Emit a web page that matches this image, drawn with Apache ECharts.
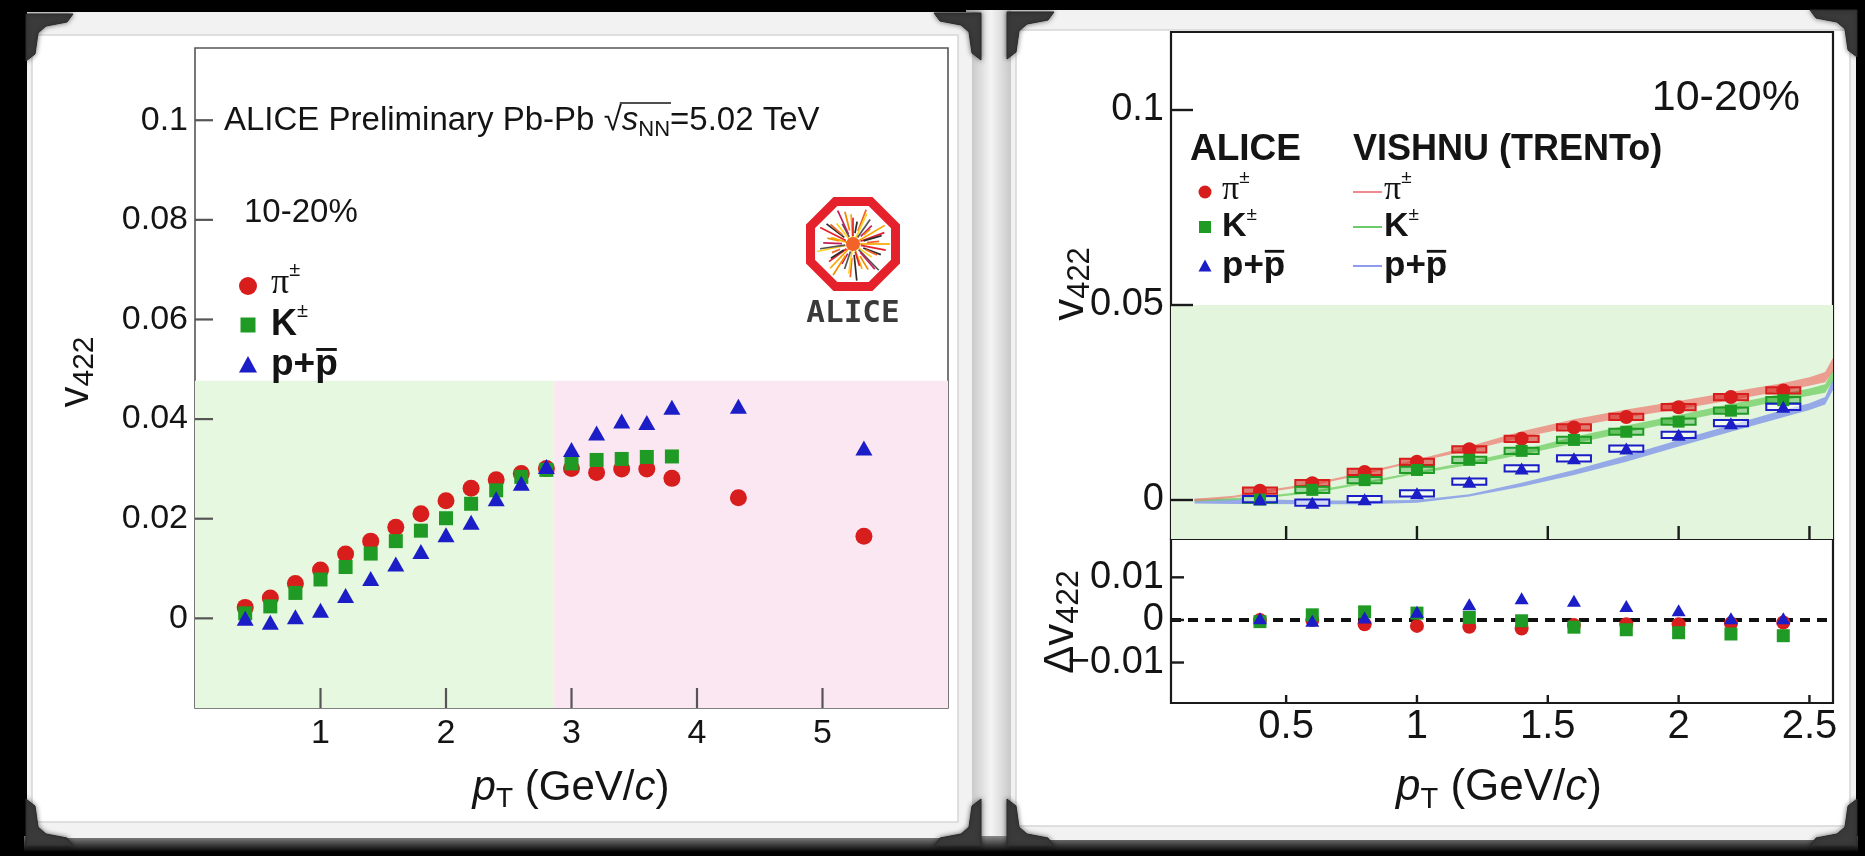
<!DOCTYPE html>
<html>
<head>
<meta charset="utf-8">
<title>v422 of identified hadrons, Pb-Pb 5.02 TeV, 10-20%</title>
<script src="https://cdn.jsdelivr.net/npm/echarts@6/dist/echarts.min.js"></script>
<style>
  html, body { margin: 0; padding: 0; background: #000; }
  #chart { width: 1865px; height: 856px; }
</style>
</head>
<body>
<div id="chart"></div>
<script>
// ---------------------------------------------------------------------------
// Measured v422 (ALICE Preliminary), pT bin centres in GeV/c
// ---------------------------------------------------------------------------
const ptFull = [0.4, 0.6, 0.8, 1.0, 1.2, 1.4, 1.6, 1.8, 2.0, 2.2, 2.4, 2.6, 2.8, 3.0, 3.2, 3.4, 3.6, 3.8, 4.33, 5.33];
const ptKaon = [0.4, 0.6, 0.8, 1.0, 1.2, 1.4, 1.6, 1.8, 2.0, 2.2, 2.4, 2.6, 2.8, 3.0, 3.2, 3.4, 3.6, 3.8];
const v422Pion   = [0.0022, 0.0041, 0.0070, 0.0097, 0.0129, 0.0155, 0.0183, 0.0210, 0.0236, 0.0261, 0.0278, 0.0291, 0.0301, 0.0301, 0.0293, 0.0300, 0.0300, 0.0281, 0.0242, 0.0165];
const v422Kaon   = [0.0010, 0.0024, 0.0051, 0.0078, 0.0103, 0.0130, 0.0155, 0.0176, 0.0201, 0.0230, 0.0257, 0.0284, 0.0298, 0.0311, 0.0318, 0.0320, 0.0324, 0.0325];
const v422Proton = [0.0000, -0.0008, 0.0003, 0.0016, 0.0046, 0.0080, 0.0109, 0.0134, 0.0168, 0.0193, 0.0240, 0.0271, 0.0305, 0.0339, 0.0372, 0.0396, 0.0393, 0.0424, 0.0426, 0.0342];

// Comparison panel uses the points up to 2.4 GeV/c
const ptCmp = [0.4, 0.6, 0.8, 1.0, 1.2, 1.4, 1.6, 1.8, 2.0, 2.2, 2.4];
const v422PionCmp   = [0.0024, 0.0043, 0.0072, 0.0098, 0.0130, 0.0157, 0.0186, 0.0213, 0.0238, 0.0264, 0.0281];
const v422KaonCmp   = [0.0001, 0.0026, 0.0051, 0.0077, 0.0103, 0.0126, 0.0154, 0.0175, 0.0201, 0.0229, 0.0256];
const v422ProtonCmp = [0.0002, -0.0007, 0.0002, 0.0017, 0.0047, 0.0081, 0.0107, 0.0132, 0.0167, 0.0197, 0.0239];
const sysV422 = 0.0008;   // half-height of the systematic boxes
const sysPtHalf = 0.065;  // half-width of the systematic boxes

// Data minus VISHNU
const dv422Pion   = [0.0000, 0.0000, -0.0010, -0.0014, -0.0016, -0.0020, -0.0012, -0.0010, -0.0010, -0.0008, -0.0006];
const dv422Kaon   = [-0.0004, 0.0012, 0.0019, 0.0016, 0.0006, -0.0002, -0.0017, -0.0023, -0.0030, -0.0033, -0.0037];
const dv422Proton = [0.0004, -0.0002, 0.0006, 0.0019, 0.0037, 0.0051, 0.0045, 0.0033, 0.0023, 0.0004, 0.0004];

// VISHNU (TRENTo) hydro bands: lower / upper edge
const hydroPt = [0.15, 0.3, 0.4, 0.6, 0.8, 1.0, 1.2, 1.4, 1.6, 1.8, 2.0, 2.2, 2.4, 2.5, 2.56, 2.59];
const hydroPionLo   = [-0.0003, 0.0006, 0.0017, 0.0037, 0.0066, 0.0098, 0.0127, 0.0160, 0.0188, 0.0212, 0.0233, 0.0256, 0.0280, 0.0293, 0.0302, 0.0330];
const hydroPionHi   = [0.0003, 0.0011, 0.0023, 0.0043, 0.0072, 0.0104, 0.0138, 0.0176, 0.0207, 0.0232, 0.0254, 0.0277, 0.0300, 0.0315, 0.0328, 0.0365];
const hydroKaonLo   = [-0.0004, 0.0000, 0.0004, 0.0017, 0.0041, 0.0067, 0.0090, 0.0116, 0.0145, 0.0173, 0.0201, 0.0228, 0.0256, 0.0267, 0.0275, 0.0305];
const hydroKaonHi   = [0.0002, 0.0005, 0.0009, 0.0024, 0.0047, 0.0073, 0.0099, 0.0128, 0.0162, 0.0191, 0.0218, 0.0246, 0.0273, 0.0286, 0.0297, 0.0335];
const hydroProtonLo = [-0.0009, -0.0010, -0.0010, -0.0011, -0.0011, -0.0007, 0.0009, 0.0034, 0.0064, 0.0098, 0.0137, 0.0175, 0.0212, 0.0231, 0.0245, 0.0282];
const hydroProtonHi = [0.0003, 0.0002, 0.0002, -0.0001, -0.0001, 0.0000, 0.0015, 0.0044, 0.0077, 0.0114, 0.0154, 0.0192, 0.0231, 0.0248, 0.0264, 0.0310];

// Shaded ranges
const leftGreenRange = [0, 2.86];
const leftPinkRange = [2.86, 6];
const leftShadeTop = 0.0477;
const rightShadeTop = 0.05;

// Axis ranges, ticks and labels
const leftXRange = [0, 6], leftYRange = [-0.018, 0.1145];
const cmpXRange = [0.06, 2.59], cmpYRange = [-0.01, 0.12], ratioYRange = [-0.0195, 0.019];
const leftXTicks = [1, 2, 3, 4, 5];
const leftXLabels = ['1', '2', '3', '4', '5'];
const leftYTicks = [0, 0.02, 0.04, 0.06, 0.08, 0.1];
const leftYLabels = ['0', '0.02', '0.04', '0.06', '0.08', '0.1'];
const rightXTicks = [0.5, 1, 1.5, 2, 2.5];
const rightXLabels = ['0.5', '1', '1.5', '2', '2.5'];
const rightYTicks = [0, 0.05, 0.1];
const rightYLabels = ['0', '0.05', '0.1'];
const ratioYTicks = [-0.01, 0, 0.01];
const ratioYLabels = ['\u22120.01', '0', '0.01'];

// ---------------------------------------------------------------------------
const FONT = '"Liberation Sans", Arial, Helvetica, sans-serif';
const SERIF = '"Liberation Serif", "DejaVu Serif", serif';
const RED = '#d81d1d', GREEN = '#1f9b25', BLUE = '#1b1dc6';
const INK = '#141414';
const LEFT_FRAME = '#555555', RIGHT_FRAME = '#1a1a1a';

const mctx = document.createElement('canvas').getContext('2d');
function textWidth(text, font) { mctx.font = font; return mctx.measureText(text).width; }

function labelFor(ticks, labels) {
  return function (v) {
    let best = 0;
    for (let i = 1; i < ticks.length; i++) if (Math.abs(ticks[i] - v) < Math.abs(ticks[best] - v)) best = i;
    return labels[best];
  };
}

function xAxisDef(grid, range, ticks, labels, fontSize, showLabels, margin) {
  return {
    type: 'value', gridIndex: grid, min: range[0], max: range[1], position: 'bottom', z: 10,
    axisLine: { show: false, onZero: false }, splitLine: { show: false }, axisTick: { show: false },
    axisLabel: { show: showLabels, customValues: ticks, formatter: labelFor(ticks, labels), margin: margin,
      fontFamily: FONT, fontSize: fontSize, color: INK }
  };
}
function yAxisDef(grid, range, ticks, labels, fontSize) {
  return {
    type: 'value', gridIndex: grid, min: range[0], max: range[1], position: 'left', z: 10,
    axisLine: { show: false, onZero: false }, splitLine: { show: false }, axisTick: { show: false },
    axisLabel: { show: true, customValues: ticks, formatter: labelFor(ticks, labels), margin: 7,
      fontFamily: FONT, fontSize: fontSize, color: INK }
  };
}

function scatter(xi, yi, xs, ys, symbol, size, color) {
  return {
    type: 'scatter', xAxisIndex: xi, yAxisIndex: yi, symbol: symbol, symbolSize: size,
    itemStyle: { color: color, opacity: 1 }, z: 5, silent: true,
    data: ys.map((y, i) => [xs[i], y])
  };
}

function bandSeries(lo, hi, fill) {
  return {
    type: 'custom', xAxisIndex: 1, yAxisIndex: 1, z: 3, silent: true,
    data: hydroPt.map((x, i) => [x, lo[i], hi[i]]),
    encode: { x: 0, y: [1, 2] },
    renderItem: function (params, api) {
      if (params.dataIndex !== 0) return null;
      const up = hydroPt.map((x, i) => api.coord([x, hi[i]]));
      const dn = hydroPt.map((x, i) => api.coord([x, lo[i]])).reverse();
      return { type: 'polygon', shape: { points: up.concat(dn) }, style: { fill: fill } };
    }
  };
}

function systSeries(xs, ys, stroke, fill) {
  return {
    type: 'custom', xAxisIndex: 1, yAxisIndex: 1, z: 4, silent: true,
    data: ys.map((y, i) => [xs[i], y]),
    renderItem: function (params, api) {
      const x = api.value(0), y = api.value(1);
      const p0 = api.coord([x - sysPtHalf, y + sysV422]);
      const p1 = api.coord([x + sysPtHalf, y - sysV422]);
      return { type: 'rect', shape: { x: p0[0], y: p0[1], width: p1[0] - p0[0], height: p1[1] - p0[1] },
        style: { fill: fill, stroke: stroke, lineWidth: 2 } };
    }
  };
}

function shadeSeries(xi, yi, areas) {
  return {
    type: 'line', xAxisIndex: xi, yAxisIndex: yi, data: [], z: 1, silent: true,
    markArea: { silent: true, data: areas }
  };
}

// ---------------------------------------------------------------------------
// Decorations: photo frames, corner brackets
// ---------------------------------------------------------------------------
function bracket(x, y, sx, sy) {
  const shape = [[0, 0], [47, 0], [41, 8], [20, 12], [12, 19], [9, 40], [0, 47]];
  return {
    type: 'polygon', z: -5, silent: true,
    shape: { points: shape.map(p => [x + sx * p[0], y + sy * p[1]]) },
    style: { fill: '#3b3b3b', stroke: '#2a2a2a', lineWidth: 1, shadowBlur: 5, shadowColor: 'rgba(0,0,0,0.55)' }
  };
}

const frameEls = [
  { type: 'rect', z: -12, silent: true, shape: { x: 966, y: 10, width: 50, height: 832 },
    style: { fill: new echarts.graphic.LinearGradient(0, 0, 1, 0, [
      { offset: 0, color: '#bdbdbd' }, { offset: 0.5, color: '#f4f4f4' }, { offset: 1, color: '#bdbdbd' }]) } },
  { type: 'rect', z: -12, silent: true, shape: { x: 24, y: 836, width: 1834, height: 16 },
    style: { fill: new echarts.graphic.LinearGradient(0, 0, 0, 1, [
      { offset: 0, color: '#8a8a8a' }, { offset: 1, color: '#000' }]) } },
  { type: 'rect', z: -11, silent: true, shape: { x: 27, y: 12, width: 945, height: 826 },
    style: { fill: '#f2f2f2' } },
  { type: 'rect', z: -10, silent: true, shape: { x: 32, y: 35, width: 926, height: 787 },
    style: { fill: '#ffffff', stroke: '#d6d6d6', lineWidth: 1.5 } },
  { type: 'rect', z: -11, silent: true, shape: { x: 1011, y: 10, width: 845, height: 830 },
    style: { fill: '#f2f2f2' } },
  { type: 'rect', z: -10, silent: true, shape: { x: 1016, y: 30, width: 834, height: 796 },
    style: { fill: '#ffffff', stroke: '#d6d6d6', lineWidth: 1.5 } },
  bracket(26, 14, 1, 1), bracket(981, 13, -1, 1), bracket(26, 846, 1, -1), bracket(981, 846, -1, -1),
  bracket(1007, 12, 1, 1), bracket(1857, 10, -1, 1), bracket(1007, 846, 1, -1), bracket(1857, 846, -1, -1)
];

// ALICE logo
function aliceLogo(cx, cy, R) {
  const els = [];
  const oct = [];
  for (let k = 0; k < 8; k++) {
    const a = Math.PI / 8 + k * Math.PI / 4;
    oct.push([cx + R * Math.cos(a), cy + R * Math.sin(a)]);
  }
  els.push({ type: 'polygon', z: 8, silent: true, shape: { points: oct },
    style: { fill: '#fff', stroke: '#e5212b', lineWidth: 9, lineJoin: 'miter' } });
  const cols = ['#f7a600', '#e5212b', '#2b2b2b', '#f2632a', '#ffd21f', '#555', '#c31f5c', '#f08c00'];
  const n = 44;
  for (let k = 0; k < n; k++) {
    const a = k * 2 * Math.PI / n + 0.04 * (k % 3);
    const r0 = 5 + (k % 4) * 3;
    const r1 = R * 0.8 - (k % 5) * 3.5;
    els.push({ type: 'line', z: 9, silent: true,
      shape: { x1: cx + r0 * Math.cos(a), y1: cy + r0 * Math.sin(a), x2: cx + r1 * Math.cos(a), y2: cy + r1 * Math.sin(a) },
      style: { stroke: cols[k % cols.length], lineWidth: 1.7 } });
  }
  els.push({ type: 'circle', z: 9, silent: true, shape: { cx: cx, cy: cy, r: 7 }, style: { fill: '#f2632a' } });
  els.push({ type: 'text', z: 9, silent: true, x: cx, y: cy + R + 24,
    style: { text: 'ALICE', font: 'bold 31px "DejaVu Sans Mono", monospace', fill: '#3a3a3a', align: 'center', verticalAlign: 'middle' } });
  return els;
}

// ---------------------------------------------------------------------------
// Texts
// ---------------------------------------------------------------------------
function richText(x, y, text, rich, opts) {
  return Object.assign({ type: 'text', z: 10, silent: true, x: x, y: y,
    style: { text: text, rich: rich, fill: INK, align: (opts && opts.align) || 'left', verticalAlign: 'middle' } },
    (opts && opts.rotation) ? { rotation: opts.rotation } : {});
}

function base(size, extra) {
  return Object.assign({ fontFamily: FONT, fontSize: size, lineHeight: Math.round(size * 1.25), fill: INK }, extra || {});
}
function sub(size) { return { fontFamily: FONT, fontSize: size, lineHeight: size, verticalAlign: 'bottom', fill: INK }; }
function sup(size, extra) { return Object.assign({ fontFamily: FONT, fontSize: size, lineHeight: size, verticalAlign: 'top', fill: INK }, extra || {}); }

// p + anti-p label with an overline over the second p
function pPbar(x, y, size) {
  const font = 'bold ' + size + 'px ' + FONT;
  const w1 = textWidth('p+', font);
  const w2 = textWidth('p', font);
  return [
    { type: 'text', z: 10, silent: true, x: x, y: y,
      style: { text: 'p+p', font: font, fill: INK, align: 'left', verticalAlign: 'middle' } },
    { type: 'line', z: 10, silent: true,
      shape: { x1: x + w1 + 1, y1: y - size * 0.42, x2: x + w1 + w2 - 1, y2: y - size * 0.42 },
      style: { stroke: INK, lineWidth: Math.max(2, size * 0.08) } }
  ];
}
function piLabel(x, y, size) {
  return richText(x, y, '{p|\u03c0}{s|\u00b1}', {
    p: { fontFamily: SERIF, fontSize: size, lineHeight: Math.round(size * 1.3), fill: INK },
    s: sup(Math.round(size * 0.55))
  });
}
function kLabel(x, y, size) {
  return richText(x, y, '{k|K}{s|\u00b1}', {
    k: base(size, { fontWeight: 'bold', lineHeight: Math.round(size * 1.3) }),
    s: sup(Math.round(size * 0.55))
  });
}
function marker(kind, x, y, size, color) {
  if (kind === 'circle') return { type: 'circle', z: 10, silent: true, shape: { cx: x, cy: y, r: size / 2 }, style: { fill: color } };
  if (kind === 'rect') return { type: 'rect', z: 10, silent: true, shape: { x: x - size / 2, y: y - size / 2, width: size, height: size }, style: { fill: color } };
  return { type: 'polygon', z: 10, silent: true, shape: { points: [[x, y - size / 2], [x + size / 2, y + size * 0.42], [x - size / 2, y + size * 0.42]] }, style: { fill: color } };
}
function legLine(x, y, color) {
  return { type: 'line', z: 10, silent: true, shape: { x1: x, y1: y, x2: x + 29, y2: y }, style: { stroke: color, lineWidth: 2 } };
}

// header with sqrt(s_NN)
const headerX = 224, headerY = 121, headerSize = 33;
const headerPre = 'ALICE Preliminary Pb-Pb ';
const wPre = textWidth(headerPre, headerSize + 'px ' + FONT) + textWidth('\u221a', headerSize + 'px ' + FONT);
const wRad = textWidth('s', 'italic ' + headerSize + 'px ' + FONT) + textWidth('NN', '22px ' + FONT);

const textEls = [
  richText(headerX, headerY, '{a|' + headerPre + '}{a|\u221a}{i|s}{n|NN}{a|=5.02 TeV}', {
    a: base(headerSize, { lineHeight: 40 }), i: base(headerSize, { fontStyle: 'italic', lineHeight: 40 }), n: sub(22)
  }),
  { type: 'line', z: 10, silent: true,
    shape: { x1: headerX + wPre - 2, y1: headerY - 18, x2: headerX + wPre + wRad + 1, y2: headerY - 18 },
    style: { stroke: INK, lineWidth: 1.5 } },
  richText(244, 213, '{a|10-20%}', { a: base(33) }),

  // left legend
  marker('circle', 248, 286, 18, RED), piLabel(271, 284, 36),
  marker('rect', 248, 325, 15, GREEN), kLabel(271, 325, 36),
  marker('tri', 248, 365, 18, BLUE)
].concat(pPbar(271, 365, 37)).concat([

  // axis titles, left
  richText(76, 372, '{v|v}{n|422}', { v: base(42, { lineHeight: 48 }), n: sub(30) }, { align: 'center', rotation: Math.PI / 2 }),
  richText(571, 788, '{p|p}{t|T}{a| (GeV/}{c|c}{a|)}', {
    p: base(42, { fontStyle: 'italic', lineHeight: 50 }), t: sub(28), a: base(42, { lineHeight: 50 }), c: base(42, { fontStyle: 'italic', lineHeight: 50 })
  }, { align: 'center' }),

  // right panel
  richText(1800, 98, '{a|10-20%}', { a: base(43) }, { align: 'right' }),
  richText(1190, 150, '{b|ALICE}', { b: base(37, { fontWeight: 'bold' }) }),
  richText(1353, 150, '{b|VISHNU (TRENTo)}', { b: base(36, { fontWeight: 'bold' }) }),
  marker('circle', 1205, 192, 13, RED), piLabel(1222, 190, 34),
  marker('rect', 1205, 227, 12, GREEN), kLabel(1222, 227, 34),
  marker('tri', 1205, 266, 13, BLUE)
]).concat(pPbar(1222, 266, 35)).concat([
  legLine(1353, 192, '#f08a8a'), piLabel(1384, 190, 34),
  legLine(1353, 227, '#6ccc6a'), kLabel(1384, 227, 34),
  legLine(1353, 266, '#8d9cef')
]).concat(pPbar(1384, 266, 35)).concat([
  richText(1071, 284, '{v|v}{n|422}', { v: base(44, { lineHeight: 50 }), n: sub(31) }, { align: 'center', rotation: Math.PI / 2 }),
  richText(1061, 622, '{d|\u0394}{v|v}{n|422}', { d: base(42, { lineHeight: 48 }), v: base(44, { lineHeight: 48 }), n: sub(32) }, { align: 'center', rotation: Math.PI / 2 }),
  richText(1499, 788, '{p|p}{t|T}{a| (GeV/}{c|c}{a|)}', {
    p: base(44, { fontStyle: 'italic', lineHeight: 52 }), t: sub(29), a: base(44, { lineHeight: 52 }), c: base(44, { fontStyle: 'italic', lineHeight: 52 })
  }, { align: 'center' })
]);

// ---------------------------------------------------------------------------
const chart = echarts.init(document.getElementById('chart'), null, { renderer: 'canvas' });

const option = {
  animation: false,
  backgroundColor: '#000',
  grid: [
    { left: 195, top: 48, width: 753, height: 660, show: true, backgroundColor: 'transparent', borderColor: LEFT_FRAME, borderWidth: 1.6 },
    { left: 1171, top: 32, width: 662, height: 507, show: true, backgroundColor: 'transparent', borderColor: RIGHT_FRAME, borderWidth: 2.2 },
    { left: 1171, top: 539, width: 662, height: 164, show: true, backgroundColor: 'transparent', borderColor: RIGHT_FRAME, borderWidth: 2.2 }
  ],
  xAxis: [
    xAxisDef(0, leftXRange, leftXTicks, leftXLabels, 34, true, 9),
    xAxisDef(1, cmpXRange, rightXTicks, rightXLabels, 40, false, 9),
    xAxisDef(2, cmpXRange, rightXTicks, rightXLabels, 40, false, 9)
  ],
  yAxis: [
    yAxisDef(0, leftYRange, leftYTicks, leftYLabels, 34),
    yAxisDef(1, cmpYRange, rightYTicks, rightYLabels, 38),
    yAxisDef(2, ratioYRange, ratioYTicks, ratioYLabels, 38)
  ],
  series: [
    // left panel
    shadeSeries(0, 0, [
      [{ xAxis: leftGreenRange[0], yAxis: leftYRange[0], itemStyle: { color: '#e7f8e1' } }, { xAxis: leftGreenRange[1], yAxis: leftShadeTop }],
      [{ xAxis: leftPinkRange[0], yAxis: leftYRange[0], itemStyle: { color: '#fbe7f2' } }, { xAxis: leftPinkRange[1], yAxis: leftShadeTop }]
    ]),
    scatter(0, 0, ptFull, v422Pion, 'circle', 17, RED),
    scatter(0, 0, ptKaon, v422Kaon, 'rect', 14, GREEN),
    scatter(0, 0, ptFull, v422Proton, 'triangle', [17, 15], BLUE),

    // right upper panel
    shadeSeries(1, 1, [
      [{ xAxis: cmpXRange[0], yAxis: cmpYRange[0], itemStyle: { color: '#e3f6dd' } }, { xAxis: cmpXRange[1], yAxis: rightShadeTop }]
    ]),
    bandSeries(hydroProtonLo, hydroProtonHi, 'rgba(128,150,232,0.8)'),
    bandSeries(hydroKaonLo, hydroKaonHi, 'rgba(110,206,96,0.75)'),
    bandSeries(hydroPionLo, hydroPionHi, 'rgba(238,128,116,0.75)'),
    systSeries(ptCmp, v422PionCmp, RED, 'rgba(216,29,29,0.55)'),
    systSeries(ptCmp, v422KaonCmp, GREEN, 'rgba(31,155,37,0.35)'),
    systSeries(ptCmp, v422ProtonCmp, BLUE, 'rgba(255,255,255,0.55)'),
    scatter(1, 1, ptCmp, v422PionCmp, 'circle', 14, RED),
    scatter(1, 1, ptCmp, v422KaonCmp, 'rect', 12, GREEN),
    scatter(1, 1, ptCmp, v422ProtonCmp, 'triangle', [14, 12], BLUE),

    // right lower panel
    {
      type: 'line', xAxisIndex: 2, yAxisIndex: 2, z: 3, silent: true, symbol: 'none',
      data: [[cmpXRange[0], 0], [cmpXRange[1], 0]],
      lineStyle: { color: '#111', width: 4, type: [10, 7] }
    },
    scatter(2, 2, ptCmp, dv422Pion, 'circle', 14, RED),
    scatter(2, 2, ptCmp, dv422Kaon, 'rect', 13, GREEN),
    scatter(2, 2, ptCmp, dv422Proton, 'triangle', [14, 12], BLUE)
  ],
  graphic: { elements: frameEls.concat(aliceLogo(853, 244, 46)).concat(textEls) }
};

chart.setOption(option);

// Inward tick marks, positioned through each grid's own axis scales
function tickMarks(gridIndex, values, along, edge, len, color, width) {
  return values.map(v => {
    const p = chart.convertToPixel({ gridIndex: gridIndex }, along === 'x' ? [v, edge] : [edge, v]);
    const end = along === 'x' ? [p[0], p[1] - len] : [p[0] + len, p[1]];
    return { type: 'line', z: 20, silent: true,
      shape: { x1: p[0], y1: p[1], x2: end[0], y2: end[1] },
      style: { stroke: color, lineWidth: width } };
  });
}
// pT labels under the ratio pad, placed at the axis positions of their values
function xTickLabels(gridIndex, values, labels, edge, gap, fontSize) {
  return values.map((v, i) => {
    const p = chart.convertToPixel({ gridIndex: gridIndex }, [v, edge]);
    return { type: 'text', z: 20, silent: true, x: p[0], y: p[1] + gap,
      style: { text: labels[i], font: fontSize + 'px ' + FONT, fill: INK, align: 'center', verticalAlign: 'middle' } };
  });
}
const tickEls = [].concat(
  tickMarks(0, leftXTicks, 'x', leftYRange[0], 20, LEFT_FRAME, 2.2),
  tickMarks(0, leftYTicks, 'y', leftXRange[0], 18, LEFT_FRAME, 2.2),
  tickMarks(1, rightXTicks, 'x', cmpYRange[0], 13, RIGHT_FRAME, 2.4),
  tickMarks(1, rightYTicks, 'y', cmpXRange[0], 22, RIGHT_FRAME, 2.4),
  tickMarks(2, rightXTicks, 'x', ratioYRange[0], 8, RIGHT_FRAME, 2.4),
  tickMarks(2, ratioYTicks, 'y', cmpXRange[0], 13, RIGHT_FRAME, 2.4),
  xTickLabels(2, rightXTicks, rightXLabels, ratioYRange[0], 24, 40)
);
chart.setOption({ graphic: { elements: frameEls.concat(aliceLogo(853, 244, 46)).concat(textEls).concat(tickEls) } });
</script>
</body>
</html>
